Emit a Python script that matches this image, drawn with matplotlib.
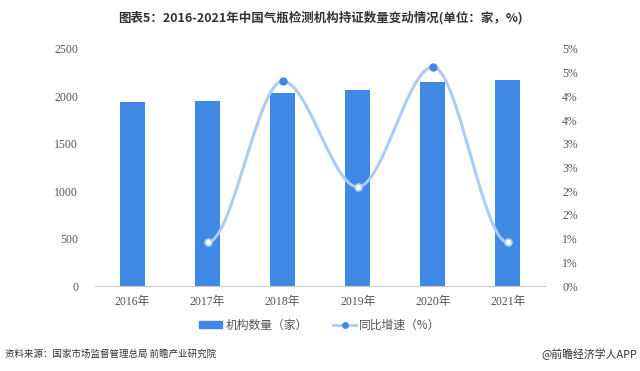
import numpy as np
import matplotlib.pyplot as plt
from matplotlib.lines import Line2D
from matplotlib.patches import Patch
from matplotlib.ticker import FuncFormatter

years = ["2016年", "2017年", "2018年", "2019年", "2020年", "2021年"]
counts = [1938, 1955, 2033, 2068, 2152, 2173]
growth_years = [1, 2, 3, 4, 5]
growth = [0.92, 4.32, 2.09, 4.62, 0.92]

BAR = "#3f88e4"
LINE = "#acccf7"
GRAY = "#555555"

plt.rcParams['font.family'] = ['Noto Sans CJK SC', 'DejaVu Sans']
SERIF = ['Liberation Serif', 'Noto Sans CJK SC']


def smooth(xs, ys, n=60):
    # Hermite curve, flat tangents at peaks and ends (echarts-like smoothing)
    xs = np.asarray(xs, float)
    ys = np.asarray(ys, float)
    m = np.zeros_like(ys)
    for i in range(1, len(ys) - 1):
        d0 = ys[i] - ys[i - 1]
        d1 = ys[i + 1] - ys[i]
        if d0 * d1 > 0:
            m[i] = (ys[i + 1] - ys[i - 1]) / (xs[i + 1] - xs[i - 1])
    px, py = [], []
    for i in range(len(xs) - 1):
        h = xs[i + 1] - xs[i]
        t = np.linspace(0, 1, n)
        h00 = 2 * t**3 - 3 * t**2 + 1
        h10 = t**3 - 2 * t**2 + t
        h01 = -2 * t**3 + 3 * t**2
        h11 = t**3 - t**2
        px.append(xs[i] + t * h)
        py.append(h00 * ys[i] + h10 * h * m[i] + h01 * ys[i + 1] + h11 * h * m[i + 1])
    return np.concatenate(px), np.concatenate(py)


fig = plt.figure(figsize=(6.4, 3.71), dpi=100)
ax = fig.add_axes([0.1484, 0.229, 0.7039, 0.639])
ax2 = ax.twinx()

x = np.arange(len(years))
ax.bar(x, counts, width=0.333, color=BAR, zorder=2)
ax.set_xlim(-0.5, len(years) - 0.5)
ax.set_ylim(0, 2500)
ax.set_yticks(range(0, 2501, 500))
ax.set_xticks(x)
ax.set_xticklabels(years, family=SERIF)

sx, sy = smooth(growth_years, growth)
ax2.plot(sx, sy, color=LINE, lw=2.2, zorder=3)
for gx, gy in zip(growth_years, growth):
    if gy > 3:
        ax2.plot(gx, gy, 'o', ms=5, mfc=BAR, mec=BAR, zorder=4)
    else:
        ax2.plot(gx, gy, 'o', ms=5, mfc='white', mec=LINE, mew=1.2, zorder=4)
ax2.set_ylim(0, 5)
ax2.set_yticks(np.arange(0, 5.01, 0.5))
ax2.yaxis.set_major_formatter(FuncFormatter(lambda v, p: f"{int(v + 0.5)}%"))

for a in (ax, ax2):
    for s in a.spines.values():
        s.set_visible(False)
    a.tick_params(length=0, labelsize=8.5, colors=GRAY)
    for lab in a.get_yticklabels():
        lab.set_family(SERIF)
ax.spines['bottom'].set_visible(True)
ax.spines['bottom'].set_color('#cccccc')
ax.tick_params(axis='y', pad=12)
ax.tick_params(axis='x', pad=7)
ax2.tick_params(axis='y', pad=12)

fig.text(0.5, 0.953, "图表5：2016-2021年中国气瓶检测机构持证数量变动情况(单位：家，%)",
         ha='center', va='center', fontsize=9, fontweight='bold', color='#333333')

handles = [Patch(color=BAR),
           Line2D([0], [0], color=LINE, lw=2, marker='o', ms=4, mfc=BAR, mec=BAR)]
fig.legend(handles, ["机构数量（家）", "同比增速（%）"], loc='center',
           bbox_to_anchor=(0.5, 0.124), ncol=2, frameon=False, fontsize=8.5,
           handlelength=1.9, handleheight=0.6, columnspacing=2.2, handletextpad=0.3,
           labelcolor=GRAY)

fig.text(0.008, 0.045, "资料来源：国家市场监督管理总局 前瞻产业研究院",
         ha='left', va='center', fontsize=6.8, color='#333333')
fig.text(0.995, 0.045, "@前瞻经济学人APP", ha='right', va='center',
         fontsize=7.8, color='#333333')

fig.savefig("out.png", dpi=100)
